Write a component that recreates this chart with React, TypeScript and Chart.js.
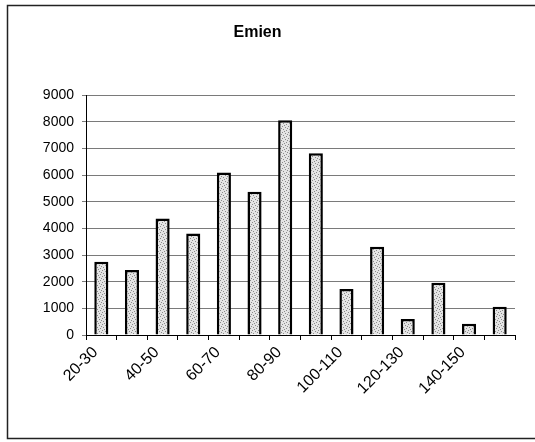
import React, { useEffect, useRef } from "react";
import { Chart, registerables } from "chart.js";

Chart.register(...registerables);

const categories = [
  "20-30", "30-40", "40-50", "50-60", "60-70", "70-80", "80-90",
  "90-100", "100-110", "110-120", "120-130", "130-140", "140-150", "150-160",
];
const values = [2750, 2440, 4370, 3810, 6100, 5380, 8060, 6820, 1730, 3310, 600, 1960, 420, 1060];
const yTicks = [0, 1000, 2000, 3000, 4000, 5000, 6000, 7000, 8000, 9000];
const title = "Emien";

function makePattern(): CanvasPattern | string {
  const c = document.createElement("canvas");
  c.width = 6;
  c.height = 6;
  const g = c.getContext("2d");
  if (!g) return "#dcdcdc";
  g.fillStyle = "#e4e4e4";
  g.fillRect(0, 0, 6, 6);
  g.fillStyle = "#8a8a8a";
  const dots = [[0, 0], [3, 1], [1, 3], [4, 4], [5, 2], [2, 5]];
  for (const [x, y] of dots) g.fillRect(x, y, 1, 1);
  const p = g.createPattern(c, "repeat");
  return p || "#dcdcdc";
}

const framePlugin = {
  id: "frame",
  afterDraw(chart: any) {
    const ctx = chart.ctx;
    ctx.save();
    ctx.strokeStyle = "#222";
    ctx.lineWidth = 1.5;
    ctx.beginPath();
    ctx.moveTo(535, 5.5);
    ctx.lineTo(7.5, 5.5);
    ctx.lineTo(7.5, 438.5);
    ctx.lineTo(535, 438.5);
    ctx.stroke();
    ctx.restore();
  },
};

const FONT = "Liberation Sans, Arial";

export default function App() {
  const ref = useRef<HTMLCanvasElement>(null);
  useEffect(() => {
    if (!ref.current) return;
    const chart = new Chart(ref.current, {
      type: "bar",
      data: {
        labels: categories,
        datasets: [
          {
            data: values,
            backgroundColor: makePattern() as any,
            borderColor: "#000",
            borderWidth: 2.5,
            barPercentage: 0.46,
            categoryPercentage: 1,
          },
        ],
      },
      options: {
        animation: false,
        responsive: false,
        layout: { padding: { left: 0, right: 20, top: 0, bottom: 0 } },
        plugins: {
          legend: { display: false },
          tooltip: { enabled: false },
          title: {
            display: true,
            text: title,
            color: "#000",
            font: { family: FONT, size: 16, weight: "bold" },
            padding: { top: 23, bottom: 53 },
          },
        },
        scales: {
          x: {
            offset: true,
            grid: {
              offset: true,
              drawOnChartArea: false,
              drawTicks: true,
              tickLength: 5,
              color: "#000",
            },
            border: { color: "#000", width: 1 },
            ticks: {
              autoSkip: false,
              minRotation: 45,
              maxRotation: 45,
              color: "#000",
              font: { family: FONT, size: 16 },
              padding: 3,
              labelOffset: -6,
              callback: (_v: any, i: number) => (i % 2 === 0 ? categories[i] : ""),
            },
            afterFit: (s: any) => {
              s.height = 107;
            },
          },
          y: {
            min: 0,
            max: 9000,
            afterBuildTicks: (s: any) => {
              s.ticks = yTicks.map((v) => ({ value: v }));
            },
            grid: {
              color: "#7a7a7a",
              lineWidth: 1,
              drawTicks: true,
              tickLength: 4,
            },
            border: { color: "#000", width: 1 },
            ticks: {
              color: "#000",
              font: { family: FONT, size: 14 },
              padding: 8,
              callback: (v: any) => String(v),
            },
            afterFit: (s: any) => {
              s.width = 86;
            },
          },
        },
      },
      plugins: [framePlugin],
    });
    return () => chart.destroy();
  }, []);
  return (
    <div style={{ position: "fixed", left: 0, top: 0, width: 535, height: 442, background: "#fff" }}>
      <canvas ref={ref} width={535} height={442} style={{ width: 535, height: 442 }} />
    </div>
  );
}
